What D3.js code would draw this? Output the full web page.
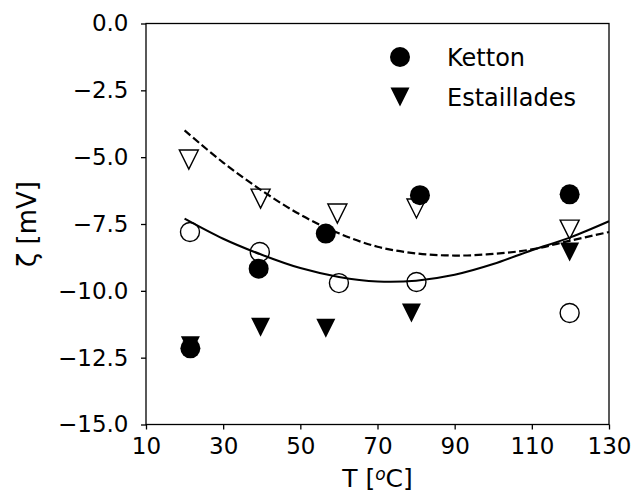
<!DOCTYPE html>
<html>
<head>
<meta charset="utf-8">
<script src="https://cdn.jsdelivr.net/npm/d3@7"></script>
<style>
  body { margin: 0; background: #fff; }
  text { font-family: "DejaVu Sans", sans-serif; fill: #000; }
</style>
</head>
<body>
<div id="chart"></div>
<script>
// scatter data
const kettonT = [21.5, 39.2, 56.6, 81, 119.8];
const kettonZeta = [-12.15, -9.17, -7.86, -6.42, -6.39];
const estT = [21.5, 39.7, 56.6, 78.8, 119.8];
const estZeta = [-12.05, -11.36, -11.4, -10.83, -8.55];
const openTriT = [21.1, 39.7, 59.6, 80.1, 119.8];
const openTriZeta = [-5.09, -6.55, -7.11, -6.92, -7.71];
const openCircT = [21.4, 39.5, 60, 80.1, 119.8];
const openCircZeta = [-7.8, -8.55, -9.71, -9.67, -10.83];

// model curves
const curveT = [20, 30, 40, 50, 60, 70, 80, 90, 100, 110, 120, 130];
const solidZeta = [-7.3, -8.05, -8.65, -9.15, -9.48, -9.65, -9.62, -9.4, -9.0, -8.48, -8.0, -7.4];
const dashedZeta = [-4.0, -5.2, -6.25, -7.15, -7.85, -8.35, -8.6, -8.68, -8.62, -8.45, -8.12, -7.8];

const xTicks = [10, 30, 50, 70, 90, 110, 130];
const yTicks = [0, -2.5, -5, -7.5, -10, -12.5, -15];

const W = 633, H = 497;
const margin = {top: 23.5, right: 24, bottom: 72.5, left: 146};
const width = W - margin.left - margin.right,
      height = H - margin.top - margin.bottom;

const x = d3.scaleLinear().domain([10, 130]).range([0, width]);
const y = d3.scaleLinear().domain([-15, 0]).range([height, 0]);

const svg = d3.select("#chart").append("svg")
  .attr("width", W)
  .attr("height", H);

const g = svg.append("g")
  .attr("transform", `translate(${margin.left},${margin.top})`);

// downward triangle like matplotlib's "v"
const tri = d3.symbol().type({
  draw(ctx, size) {
    const s = 9.5;
    ctx.moveTo(0, s);
    ctx.lineTo(-s, -s);
    ctx.lineTo(s, -s);
    ctx.closePath();
  }
});

const zip = (a, b) => a.map((v, i) => [v, b[i]]);

// open markers first
g.selectAll(".otri")
  .data(zip(openTriT, openTriZeta))
  .enter().append("path")
  .attr("class", "otri")
  .attr("d", tri())
  .attr("transform", d => `translate(${x(d[0])},${y(d[1])})`)
  .attr("fill", "none")
  .attr("stroke", "#000")
  .attr("stroke-width", 1.4);

g.selectAll(".ocirc")
  .data(zip(openCircT, openCircZeta))
  .enter().append("circle")
  .attr("class", "ocirc")
  .attr("cx", d => x(d[0]))
  .attr("cy", d => y(d[1]))
  .attr("r", 9.5)
  .attr("fill", "none")
  .attr("stroke", "#000")
  .attr("stroke-width", 1.4);

g.selectAll(".etri")
  .data(zip(estT, estZeta))
  .enter().append("path")
  .attr("class", "etri")
  .attr("d", tri())
  .attr("transform", d => `translate(${x(d[0])},${y(d[1])})`)
  .attr("fill", "#000");

g.selectAll(".kcirc")
  .data(zip(kettonT, kettonZeta))
  .enter().append("circle")
  .attr("class", "kcirc")
  .attr("cx", d => x(d[0]))
  .attr("cy", d => y(d[1]))
  .attr("r", 10)
  .attr("fill", "#000");

const line = d3.line()
  .x(d => x(d[0]))
  .y(d => y(d[1]))
  .curve(d3.curveCatmullRom);

g.append("path")
  .datum(zip(curveT, solidZeta))
  .attr("d", line)
  .attr("fill", "none")
  .attr("stroke", "#000")
  .attr("stroke-width", 2.1);

g.append("path")
  .datum(zip(curveT, dashedZeta))
  .attr("d", line)
  .attr("fill", "none")
  .attr("stroke", "#000")
  .attr("stroke-width", 2.2)
  .attr("stroke-dasharray", "7.8,3.4");

// axes
const xAxis = d3.axisBottom(x).tickValues(xTicks).tickSize(5).tickPadding(8.5);
const yAxis = d3.axisLeft(y).tickValues(yTicks).tickSize(5).tickPadding(12.5)
  .tickFormat(d3.format(".1f"));

const gx = g.append("g")
  .attr("transform", `translate(0,${height})`)
  .call(xAxis);
const gy = g.append("g").call(yAxis);

[gx, gy].forEach(a => {
  a.select(".domain").remove();
  a.selectAll("line").attr("stroke", "#000").attr("stroke-width", 1.3);
  a.selectAll("text").style("font-size", "23px").attr("fill", "#000");
});

g.append("rect")
  .attr("width", width)
  .attr("height", height)
  .attr("fill", "none")
  .attr("stroke", "#000")
  .attr("stroke-width", 1.3);

// axis labels
svg.append("text")
  .attr("x", margin.left + width / 2)
  .attr("y", 487)
  .attr("text-anchor", "middle")
  .style("font-size", "25px")
  .call(t => {
    t.append("tspan").text("T [");
    t.append("tspan").attr("baseline-shift", "40%").style("font-style", "italic").style("font-size", "17px").text("o");
    t.append("tspan").text("C]");
  });

svg.append("text")
  .attr("transform", `translate(36,${margin.top + height / 2}) rotate(-90)`)
  .attr("text-anchor", "middle")
  .style("font-size", "26px")
  .text("ζ [mV]");

// legend
const legend = svg.append("g");
legend.append("circle").attr("cx", 400).attr("cy", 57).attr("r", 10).attr("fill", "#000");
legend.append("path").attr("d", tri()).attr("transform", "translate(400,97)").attr("fill", "#000");
legend.append("text").attr("x", 447).attr("y", 65.5).style("font-size", "24px").text("Ketton");
legend.append("text").attr("x", 447).attr("y", 105.5).style("font-size", "24px").text("Estaillades");
</script>
</body>
</html>
